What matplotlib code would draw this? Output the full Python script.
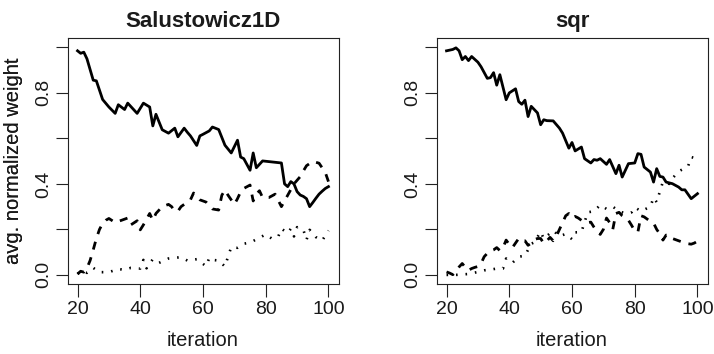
import matplotlib
matplotlib.use("Agg")
import matplotlib.pyplot as plt

# R-like look: Arial-ish font
plt.rcParams['font.family'] = ['Liberation Sans', 'DejaVu Sans']

titles = ["Salustowicz1D", "sqr"]
x_label = "iteration"
y_label = "avg. normalized weight"
x_ticks = [20, 40, 60, 80, 100]
y_ticks = [0.0, 0.2, 0.4, 0.6, 0.8, 1.0]
y_tick_labels = ["0.0", "", "0.4", "", "0.8", ""]

# Salustowicz1D - solid line
sal_solid_it = [20, 21, 22, 23, 25, 26, 28, 30, 32, 33, 35, 36, 39, 41, 43, 44, 45, 47,
                49, 51, 52, 54, 55, 56, 58, 59, 60, 62, 63, 65, 67, 69, 71, 72, 73, 75,
                76, 77, 79, 83, 85, 86, 87, 88, 89, 90, 91, 92, 93, 94, 95, 96, 97, 98,
                99, 100]
sal_solid = [.985, .974, .979, .95, .856, .853, .771, .738, .71, .748, .727, .755, .71, .755,
             .738, .655, .706, .638, .623, .645, .607, .645, .627, .611, .569, .611, .618,
             .633, .65, .639, .57, .536, .592, .518, .511, .46, .536, .471, .501, .495, .492,
             .40, .388, .41, .40, .366, .351, .345, .335, .30, .318, .337, .355, .368, .38,
             .388]

# Salustowicz1D - dashed line
sal_dash_it = [20, 21, 22, 23, 24, 25, 26, 27, 28, 29, 30, 32, 34, 36, 37, 39, 40, 41, 43,
               44, 45, 47, 49, 50, 51, 52, 53, 56, 57, 59, 61, 63, 65, 66, 67, 68, 70, 71,
               72, 73, 75, 76, 77, 78, 79, 81, 83, 85, 87, 89, 91, 92, 93, 95, 97, 99, 100]
sal_dash = [.004, .016, .012, .03, .063, .11, .16, .2, .226, .24, .248, .23, .24, .25, .22,
            .238, .198, .22, .27, .24, .27, .30, .31, .30, .28, .28, .30, .33, .36, .33, .32,
            .29, .285, .35, .373, .35, .31, .335, .365, .38, .395, .325, .355, .37, .34, .34,
            .355, .30, .35, .40, .432, .457, .48, .499, .491, .45, .41]

# Salustowicz1D - dotted line
sal_dot_it = [20, 21, 23, 25, 27, 30, 33, 35, 37, 40, 41, 42, 44, 46, 49, 51, 53, 55, 58,
              61, 62, 63, 65, 67, 68, 69, 71, 73, 75, 78, 80, 82, 84, 85, 87, 88, 89, 90,
              92, 93, 94, 96, 98, 100]
sal_dot = [.004, .016, .009, .031, .012, .012, .026, .022, .031, .028, .066, .029, .069,
           .053, .072, .075, .078, .063, .069, .038, .075, .066, .063, .037, .081, .122,
           .119, .137, .142, .163, .178, .159, .169, .203, .184, .203, .169, .21, .198,
           .154, .198, .166, .151, .195]

# sqr - solid line
sqr_solid_it = [20, 22, 23, 24, 25, 26, 27, 28, 30, 31, 33, 34, 35, 36, 37, 39, 40, 42, 43,
                44, 45, 46, 47, 49, 50, 51, 52, 54, 56, 57, 59, 60, 61, 63, 64, 66, 67, 68,
                69, 71, 72, 74, 75, 76, 78, 80, 81, 82, 83, 85, 86, 87, 88, 89, 90, 92, 94,
                95, 96, 98, 100]
sqr_solid = [.985, .991, .998, .985, .946, .96, .942, .96, .935, .915, .864, .867, .889,
             .834, .88, .77, .80, .818, .762, .75, .768, .696, .741, .712, .66, .682, .678,
             .677, .645, .623, .557, .582, .545, .562, .511, .492, .507, .504, .511, .486,
             .507, .445, .482, .43, .489, .492, .533, .53, .474, .452, .408, .467, .433,
             .43, .408, .401, .386, .374, .374, .335, .357]

# sqr - dashed line
sqr_dash_it = list(range(20, 101))
sqr_dash = [.013, .008, .001, .015, .035, .05, .033, .02, .028, .033, .037, .05, .08, .095,
            .105, .11, .12, .107, .12, .153, .134, .12, .14, .16, .15, .15, .13, .14, .155,
            .16, .16, .138, .15, .165, .15, .17, .2, .23, .26, .27, .25, .257, .25, .24,
            .235, .23, .232, .21, .19, .178, .2, .25, .23, .2, .27, .275, .26, .25, .24,
            .218, .193, .188, .26, .255, .245, .235, .228, .2, .18, .153, .175, .175, .16,
            .155, .15, .145, .14, .137, .135, .14, .148]

# sqr - dotted line
sqr_dot_it = [20, 23, 27, 30, 32, 34, 36, 38, 39, 41, 43, 45, 47, 48, 50, 51, 54, 56, 58,
              60, 61, 63, 65, 67, 69, 71, 73, 75, 77, 79, 80, 82, 85, 86, 87, 88, 89, 91,
              92, 94, 97, 98, 100]
sqr_dot = [0, 0, .004, .013, .02, .023, .028, .028, .072, .053, .08, .084, .137, .143, .19,
           .159, .195, .17, .18, .157, .187, .188, .275, .28, .307, .29, .30, .28, .27, .275,
           .297, .28, .30, .34, .32, .366, .41, .40, .424, .455, .477, .518, .51]

panels = [
    (sal_solid_it, sal_solid, sal_dash_it, sal_dash, sal_dot_it, sal_dot),
    (sqr_solid_it, sqr_solid, sqr_dash_it, sqr_dash, sqr_dot_it, sqr_dot),
]

fig = plt.figure(figsize=(7.14, 3.54), dpi=100)

# axes boxes in pixels (left, bottom-from-top), converted to figure fractions
lefts = [67.5, 436.5]
ax_w = 271.0
ax_top = 38.3
ax_bottom = 284.0

for i, (title, data) in enumerate(zip(titles, panels)):
    s_it, s_v, d_it, d_v, o_it, o_v = data
    ax = fig.add_axes([lefts[i] / 714, (354 - ax_bottom) / 354,
                       ax_w / 714, (ax_bottom - ax_top) / 354])

    ax.plot(s_it, s_v, color="black", lw=2.0, solid_joinstyle="round")
    ax.plot(d_it, d_v, color="black", lw=2.0, linestyle=(0, (2.9, 2.9)))
    ax.plot(o_it, o_v, color="black", lw=1.9, linestyle=(0, (0.6, 3.0)))

    ax.set_xlim(16.8, 103.2)
    ax.set_ylim(-0.04, 1.04)
    ax.set_xticks(x_ticks)
    ax.set_yticks(y_ticks)
    ax.set_yticklabels(y_tick_labels)

    for sp in ax.spines.values():
        sp.set_color("#222222")
        sp.set_linewidth(0.8)

    ax.tick_params(direction="out", length=9, width=0.8, color="#222222",
                   labelsize=14, labelcolor="#1a1a1a")
    ax.tick_params(axis="x", pad=3)
    ax.tick_params(axis="y", pad=2, labelrotation=90)
    for lab in ax.get_yticklabels():
        lab.set_va("center")

    ax.set_xlabel(x_label, fontsize=14.5, color="#1a1a1a")
    ax.set_ylabel(y_label, fontsize=14.5, color="#1a1a1a")
    ax.xaxis.label.set_va("center")
    ax.yaxis.label.set_va("center")
    ax.xaxis.set_label_coords(0.5, -(341 - ax_bottom) / (ax_bottom - ax_top))
    ax.yaxis.set_label_coords((13.3 - lefts[i]) / ax_w, 0.5)

    ax.text(0.5, 1 + (ax_top - 21.7) / (ax_bottom - ax_top), title,
            transform=ax.transAxes, ha="center", va="center",
            fontsize=16, fontweight="bold", color="#1a1a1a")

fig.savefig("out.png", dpi=100)
